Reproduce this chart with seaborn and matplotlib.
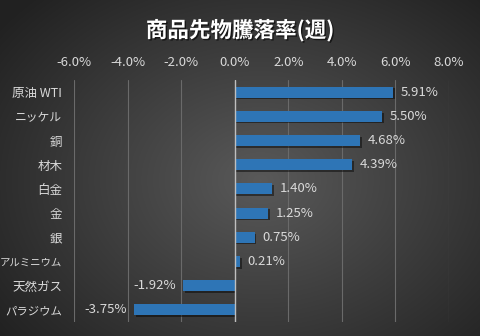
import numpy as np
import pandas as pd
import matplotlib
matplotlib.use("Agg")
import matplotlib.pyplot as plt
import matplotlib.patheffects as pe
import seaborn as sns

categories = ["原油 WTI", "ニッケル", "銅", "材木", "白金", "金", "銀", "アルミニウム", "天然ガス", "パラジウム"]
values = [5.91, 5.50, 4.68, 4.39, 1.40, 1.25, 0.75, 0.21, -1.92, -3.75]
xticks = [-6, -4, -2, 0, 2, 4, 6, 8]
title = "商品先物騰落率(週)"

sns.set_theme(style="white")
plt.rcParams['font.family'] = ['Noto Sans CJK JP', 'DejaVu Sans']

df = pd.DataFrame({"cat": categories, "val": values})

fig = plt.figure(figsize=(4.8, 3.36), dpi=100)
# background radial gradient
bg = fig.add_axes([0, 0, 1, 1], zorder=-10)
yy, xx = np.mgrid[0:336, 0:480]
r = np.sqrt(((xx - 260) / 300.0) ** 2 + ((yy - 180) / 230.0) ** 2)
v = np.clip(0.35 - 0.20 * r, 0.13, 0.35)
img = np.dstack([v, v, v])
bg.imshow(img, aspect="auto", extent=[0, 1, 0, 1])
bg.set_axis_off()

ax = fig.add_axes([74 / 480, 1 - 322 / 336, 375 / 480, 242 / 336])
ax.set_facecolor("none")
sns.barplot(data=df, x="val", y="cat", orient="h", color="#2E75B6", width=0.45,
            saturation=1, linewidth=0, ax=ax, zorder=3)
for p in ax.patches:
    p.set_path_effects([pe.SimplePatchShadow(offset=(1.2, -1.2), shadow_rgbFace="black", alpha=0.45), pe.Normal()])

ax.set_xlim(-6, 8)
ax.set_ylim(9.5, -0.5)
ax.set_xticks(xticks)
ax.set_xticklabels([f"{t:.1f}%" for t in xticks])
ax.xaxis.tick_top()
ax.tick_params(axis="x", colors="#D9D9D9", labelsize=9.5, length=0, pad=8)
ax.tick_params(axis="y", colors="#D9D9D9", labelsize=9, length=0, pad=8.5)
sizes = {"アルミニウム": 7.5, "パラジウム": 8.2, "ニッケル": 8.5}
for lab in ax.get_yticklabels():
    if lab.get_text() in sizes:
        lab.set_fontsize(sizes[lab.get_text()])
ax.set_xlabel("")
ax.set_ylabel("")
for s in ax.spines.values():
    s.set_visible(False)
for t in xticks:
    if t == 0:
        ax.axvline(0, color="#BFBFBF", lw=1.0, zorder=4)
    else:
        ax.axvline(t, color="#6A6A6A", lw=0.8, zorder=1)

for i, v_ in enumerate(values):
    if v_ >= 0:
        ax.text(v_ + 0.28, i, f"{v_:.2f}%", va="center", ha="left", color="#D9D9D9", fontsize=9.5)
    else:
        ax.text(v_ - 0.28, i, f"{v_:.2f}%", va="center", ha="right", color="#D9D9D9", fontsize=9.5)

fig.text(0.5, 1 - 30 / 336, title, ha="center", va="center", color="white", fontsize=15.5,
         fontweight="bold",
         path_effects=[pe.withSimplePatchShadow(offset=(1, -1), shadow_rgbFace="black", alpha=0.6)])

fig.savefig("out.png", dpi=100)
